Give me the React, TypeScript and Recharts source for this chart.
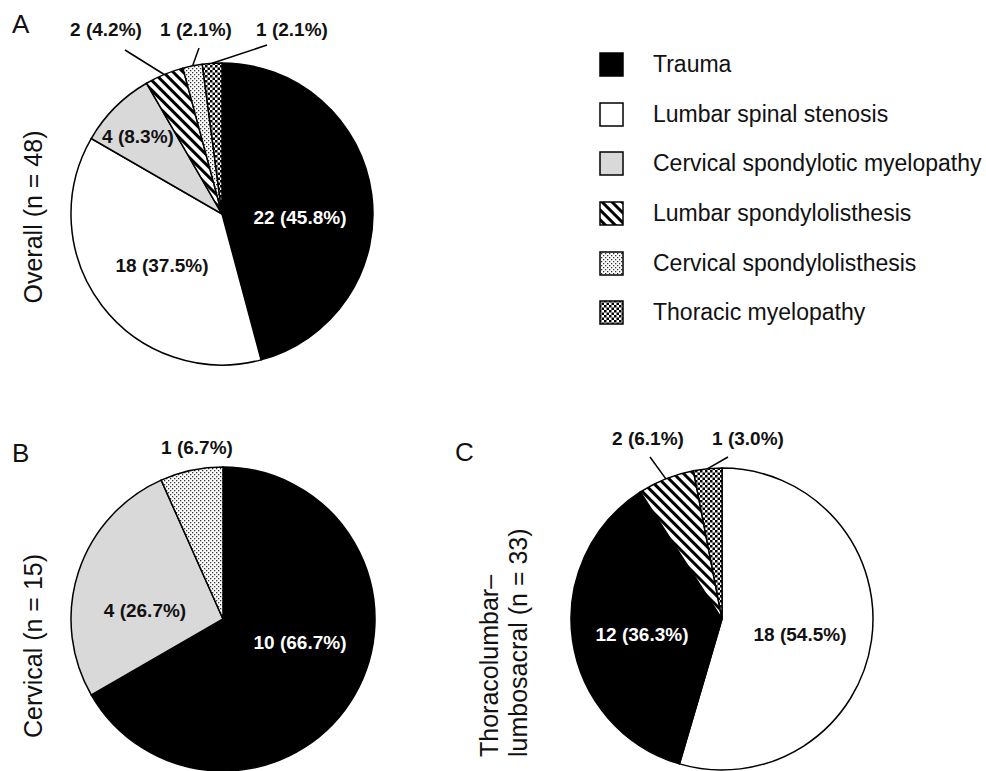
import React from 'react';
import { PieChart, Pie, Cell, Legend } from 'recharts';

// categories (legend order)
const categories = [
  'Trauma',
  'Lumbar spinal stenosis',
  'Cervical spondylotic myelopathy',
  'Lumbar spondylolisthesis',
  'Cervical spondylolisthesis',
  'Thoracic myelopathy',
];

// A: overall
const overallNames = [
  'Trauma',
  'Lumbar spinal stenosis',
  'Cervical spondylotic myelopathy',
  'Lumbar spondylolisthesis',
  'Cervical spondylolisthesis',
  'Thoracic myelopathy',
];
const overallCounts = [22, 18, 4, 2, 1, 1];
const overallPct = ['45.8%', '37.5%', '8.3%', '4.2%', '2.1%', '2.1%'];

// B: cervical
const cervicalNames = ['Trauma', 'Cervical spondylotic myelopathy', 'Cervical spondylolisthesis'];
const cervicalCounts = [10, 4, 1];
const cervicalPct = ['66.7%', '26.7%', '6.7%'];

// C: thoracolumbar-lumbosacral
const tlNames = ['Lumbar spinal stenosis', 'Trauma', 'Lumbar spondylolisthesis', 'Thoracic myelopathy'];
const tlCounts = [18, 12, 2, 1];
const tlPct = ['54.5%', '36.3%', '6.1%', '3.0%'];

const FONT = '"Liberation Sans", Arial, Helvetica, sans-serif';
const RAD = Math.PI / 180;

const fills: Record<string, string> = {
  Trauma: '#000',
  'Lumbar spinal stenosis': '#fff',
  'Cervical spondylotic myelopathy': '#d9d9d9',
  'Lumbar spondylolisthesis': 'url(#stripes)',
  'Cervical spondylolisthesis': 'url(#dots)',
  'Thoracic myelopathy': 'url(#checker)',
};

// label placement relative to pie centre (lx/ly = leader line start)
const overallLabelPos = [
  { dx: 78, dy: 3 },
  { dx: -60, dy: 51 },
  { dx: -84, dy: -78 },
  { dx: -116, dy: -185, lx: -97, ly: -164 },
  { dx: -26, dy: -185, lx: -23, ly: -166 },
  { dx: 70, dy: -185, lx: 45, ly: -169 },
];
const cervicalLabelPos = [
  { dx: 77, dy: 23 },
  { dx: -78, dy: -9 },
  { dx: -26, dy: -172 },
];
const tlLabelPos = [
  { dx: 78, dy: 15 },
  { dx: -80, dy: 15 },
  { dx: -74, dy: -181, lx: -72, ly: -162 },
  { dx: 26, dy: -181, lx: 6, ly: -162 },
];

const toRows = (names: string[], counts: number[]) =>
  names.map((name, i) => ({ name, value: counts[i] }));

function makeLabel(names: string[], counts: number[], pcts: string[], pos: any[]) {
  return (props: any) => {
    const { cx, cy, midAngle, outerRadius, index } = props;
    const p = pos[index];
    const dark = fills[names[index]] === '#000';
    let line = null;
    if (p.lx !== undefined) {
      const ex = cx + outerRadius * Math.cos(-midAngle * RAD);
      const ey = cy + outerRadius * Math.sin(-midAngle * RAD);
      line = <line x1={cx + p.lx} y1={cy + p.ly} x2={ex} y2={ey} stroke="#000" strokeWidth={1.5} />;
    }
    return (
      <g key={`lbl-${names[index]}-${index}`}>
        {line}
        <text
          x={cx + p.dx}
          y={cy + p.dy}
          textAnchor="middle"
          dominantBaseline="central"
          fill={dark ? '#fff' : '#111'}
          fontFamily={FONT}
          fontWeight="bold"
          fontSize={19}
        >
          {`${counts[index]} (${pcts[index]})`}
        </text>
      </g>
    );
  };
}

function Swatch({ fill }: { fill: string }) {
  return (
    <svg width={25} height={25} style={{ display: 'block' }}>
      <rect x={1} y={1} width={23} height={23} fill={fill} stroke="#000" strokeWidth={1.5} />
    </svg>
  );
}

function LegendBox() {
  return (
    <div style={{ fontFamily: FONT, fontSize: 23, color: '#111' }}>
      {categories.map((c) => (
        <div key={c} style={{ display: 'flex', alignItems: 'center', height: 49.6 }}>
          <Swatch fill={fills[c]} />
          <span style={{ marginLeft: 29, whiteSpace: 'nowrap' }}>{c}</span>
        </div>
      ))}
    </div>
  );
}

export default function App() {
  const titleStyle = { fontFamily: FONT, fontSize: 25, fill: '#111' };
  return (
    <div style={{ position: 'absolute', left: 0, top: 0, width: 986, height: 771, background: '#fff' }}>
      <svg width={0} height={0} style={{ position: 'absolute' }}>
        <defs>
          <pattern id="stripes" width={7} height={7} patternUnits="userSpaceOnUse" patternTransform="rotate(-45)">
            <rect width={7} height={7} fill="#fff" />
            <rect width={3} height={7} fill="#000" />
          </pattern>
          <pattern id="dots" width={4} height={4} patternUnits="userSpaceOnUse">
            <rect width={4} height={4} fill="#fff" />
            <rect x={0} y={0} width={1.3} height={1.3} fill="#333" />
            <rect x={2} y={2} width={1.3} height={1.3} fill="#333" />
          </pattern>
          <pattern id="checker" width={5} height={5} patternUnits="userSpaceOnUse">
            <rect width={5} height={5} fill="#fff" />
            <rect x={0} y={0} width={2.5} height={2.5} fill="#000" />
            <rect x={2.5} y={2.5} width={2.5} height={2.5} fill="#000" />
          </pattern>
        </defs>
      </svg>
      <PieChart width={986} height={771} margin={{ top: 0, right: 0, bottom: 0, left: 0 }}>
        <Pie
          data={toRows(overallNames, overallCounts)}
          dataKey="value"
          nameKey="name"
          cx={222}
          cy={214}
          outerRadius={151}
          startAngle={90}
          endAngle={-270}
          stroke="#000"
          strokeWidth={1.5}
          labelLine={false}
          label={makeLabel(overallNames, overallCounts, overallPct, overallLabelPos)}
          isAnimationActive={false}
        >
          {overallNames.map((n) => (
            <Cell key={n} fill={fills[n]} />
          ))}
        </Pie>
        <Pie
          data={toRows(cervicalNames, cervicalCounts)}
          dataKey="value"
          nameKey="name"
          cx={223}
          cy={619}
          outerRadius={152}
          startAngle={90}
          endAngle={-270}
          stroke="#000"
          strokeWidth={1.5}
          labelLine={false}
          label={makeLabel(cervicalNames, cervicalCounts, cervicalPct, cervicalLabelPos)}
          isAnimationActive={false}
        >
          {cervicalNames.map((n) => (
            <Cell key={n} fill={fills[n]} />
          ))}
        </Pie>
        <Pie
          data={toRows(tlNames, tlCounts)}
          dataKey="value"
          nameKey="name"
          cx={722}
          cy={619}
          outerRadius={151}
          startAngle={90}
          endAngle={-270}
          stroke="#000"
          strokeWidth={1.5}
          labelLine={false}
          label={makeLabel(tlNames, tlCounts, tlPct, tlLabelPos)}
          isAnimationActive={false}
        >
          {tlNames.map((n) => (
            <Cell key={n} fill={fills[n]} />
          ))}
        </Pie>
        <Legend
          layout="vertical"
          align="right"
          verticalAlign="middle"
          content={() => <LegendBox />}
          wrapperStyle={{ left: 599, top: 40, right: 'auto', bottom: 'auto', width: 387 }}
        />

        <text x={12} y={33} fontFamily={FONT} fontSize={26} fill="#111">A</text>
        <text x={12} y={462} fontFamily={FONT} fontSize={26} fill="#111">B</text>
        <text x={455} y={461} fontFamily={FONT} fontSize={26} fill="#111">C</text>

        <text x={33} y={217} transform="rotate(-90 33 217)" textAnchor="middle" dominantBaseline="central" {...titleStyle}>
          Overall (n = 48)
        </text>
        <text x={33} y={646} transform="rotate(-90 33 646)" textAnchor="middle" dominantBaseline="central" {...titleStyle}>
          Cervical (n = 15)
        </text>
        <text x={498} y={757} transform="rotate(-90 498 757)" {...titleStyle}>
          Thoracolumbar–
        </text>
        <text x={527} y={757} transform="rotate(-90 527 757)" {...titleStyle}>
          lumbosacral (n = 33)
        </text>
      </PieChart>
    </div>
  );
}
